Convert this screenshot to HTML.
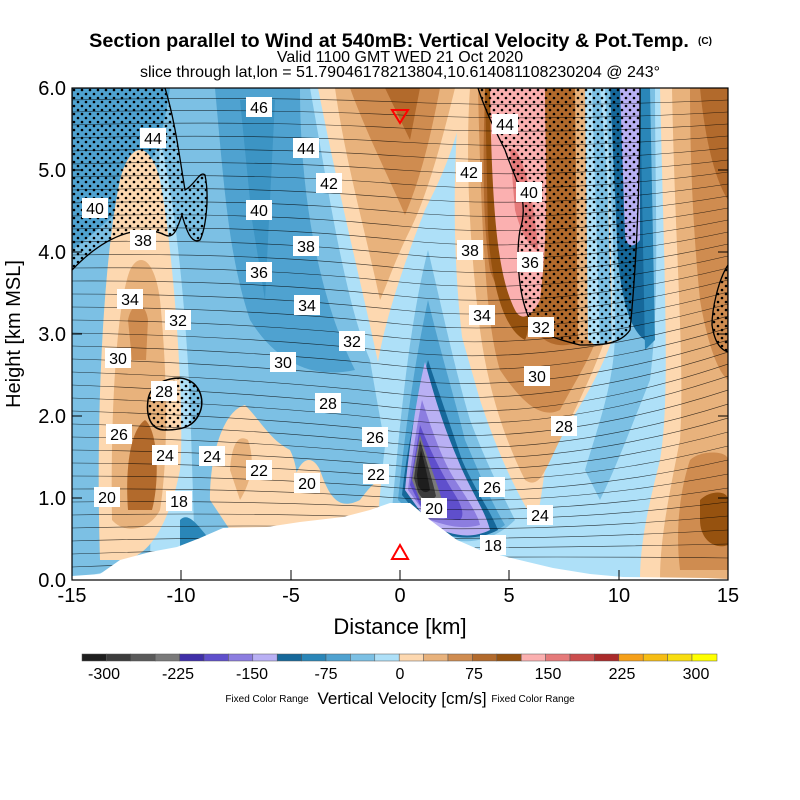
<!DOCTYPE html>
<html><head><meta charset="utf-8"><style>
body{margin:0;background:#fff}
svg{display:block;font-family:"Liberation Sans",sans-serif}
</style></head><body>
<svg width="800" height="800" viewBox="0 0 800 800" xmlns="http://www.w3.org/2000/svg">
<defs>
<pattern id="dots" width="8" height="8" patternUnits="userSpaceOnUse">
<circle cx="2" cy="2" r="1.3" fill="#000"/><circle cx="6" cy="6" r="1.3" fill="#000"/>
</pattern>
<clipPath id="plot"><rect x="72" y="88" width="656" height="492"/></clipPath>
</defs>
<text x="389" y="47" font-size="19.8" font-weight="bold" text-anchor="middle">Section parallel to Wind at 540mB: Vertical Velocity &amp; Pot.Temp.</text>
<text x="705" y="44" font-size="10" font-weight="bold" text-anchor="middle">(C)</text>
<text x="400" y="62" font-size="16" text-anchor="middle">Valid 1100 GMT WED 21 Oct 2020</text>
<text x="400" y="77" font-size="16" text-anchor="middle">slice through lat,lon = 51.79046178213804,10.614081108230204 @ 243°</text>

<g clip-path="url(#plot)">
<rect x="72" y="88" width="656" height="492" fill="#aee0f8"/>
<path d="M72 88 L310 88 C330 200 345 300 370 360 C380 420 390 470 395 500 L72 580 Z" fill="#7cc0e4"/>
<path d="M215 88 L300 88 C300 200 320 300 355 370 C310 380 275 360 250 320 C230 260 225 200 215 88Z" fill="#4fa2d0"/>
<path d="M72 88 L170 88 C160 160 140 200 72 250Z" fill="#4fa2d0"/>
<path d="M240 100 L275 100 L265 300 L252 220Z" fill="#2a86b8" opacity="0.5"/>
<path d="M160 140 C175 200 185 300 190 400 L195 560 L150 560 Z" fill="#aee0f8"/>
<path d="M100 560 C95 400 105 250 120 180 C130 140 150 140 160 180 C175 260 185 420 180 470 C170 520 150 560 120 560Z" fill="#fdd8b0"/>
<path d="M112 520 C110 400 118 300 130 270 C140 250 155 260 160 300 C168 380 168 460 160 510 C150 530 125 535 112 520Z" fill="#e8b27c"/>
<path d="M128 510 C125 470 130 430 145 420 C158 430 160 480 152 510Z" fill="#b26a2c"/>
<path d="M128 320 C132 300 145 300 148 320 L146 360 L132 360Z" fill="#cf8c50"/>
<path d="M210 500 C210 450 225 410 245 405 C260 420 270 440 290 450 C300 470 300 500 290 530 L230 530Z" fill="#fdd8b0"/>
<path d="M230 470 C232 440 240 435 248 440 C255 460 252 480 240 500Z" fill="#e8b27c"/>
<path d="M290 500 C295 460 310 450 320 470 C330 500 340 510 360 500 C375 480 385 470 395 490 L395 530 L290 530Z" fill="#fdd8b0"/>
<path d="M180 520 C190 510 200 530 215 545 L200 560 L180 560Z" fill="#2a86b8"/>
<path d="M318 88 L468 88 C455 150 440 180 425 210 C405 260 385 320 378 362 C365 300 340 200 318 88Z" fill="#fdd8b0"/>
<path d="M335 88 L455 88 C440 150 425 200 410 230 C395 260 385 290 380 300 C365 230 345 160 335 88Z" fill="#e8b27c"/>
<path d="M350 88 L440 88 C430 140 420 180 405 215 C390 180 365 130 350 88Z" fill="#cf8c50"/>
<path d="M385 88 L420 88 L410 140 Z" fill="#b26a2c"/>
<path d="M460 88 L610 88 L612 340 C590 400 560 430 545 470 C540 500 540 520 530 520 C505 500 480 440 468 380 C455 300 450 200 460 88Z" fill="#fdd8b0"/>
<path d="M470 88 L605 88 L605 340 C590 380 575 410 560 440 C545 470 540 490 525 480 C505 440 488 390 480 330 C470 250 465 160 470 88Z" fill="#e8b27c"/>
<path d="M478 88 L600 88 L600 330 C590 360 570 390 560 410 C540 420 520 400 500 370 C488 330 482 260 478 88Z" fill="#cf8c50"/>
<path d="M485 88 L595 88 L600 330 C580 345 560 350 545 340 C520 320 500 300 490 270 C482 220 483 150 485 88Z" fill="#b26a2c"/>
<path d="M485 88 L500 88 L510 200 C520 270 535 320 525 340 C505 330 492 290 488 230 Z" fill="#96520f"/>
<path d="M490 88 L545 88 C545 150 550 220 540 300 C530 320 520 320 515 310 C500 280 492 230 490 88Z" fill="#fbb0b0"/>
<path d="M510 150 C520 140 535 200 538 250 C530 250 520 230 515 210Z" fill="#e57a7a"/>
<path d="M575 88 L585 88 L588 340 L578 340Z" fill="#e8b27c"/>
<path d="M585 88 L605 88 L610 340 L595 345 L588 340Z" fill="#aee0f8"/>
<path d="M592 88 L605 88 L612 340 L600 345Z" fill="#7cc0e4"/>
<path d="M600 88 L660 88 C660 200 665 300 660 420 C640 500 630 560 620 580 L560 580 C560 520 580 460 610 420 C615 300 610 200 600 88Z" fill="#aee0f8"/>
<path d="M605 88 L655 88 C655 200 660 300 650 380 C630 430 615 470 600 500 L585 470 C600 420 615 380 615 330 C615 250 610 180 605 88Z" fill="#7cc0e4"/>
<path d="M610 88 L650 88 C650 200 650 280 645 340 C630 330 622 300 618 260 Z" fill="#16689a"/>
<path d="M620 88 L640 88 L640 240 C632 250 626 245 625 235Z" fill="#b9b0f4"/>
<path d="M640 88 L650 88 L655 340 L645 350Z" fill="#2a86b8"/>
<path d="M660 88 L728 88 L728 580 L640 580 C640 540 650 500 660 460 C670 400 665 300 660 88Z" fill="#fdd8b0"/>
<path d="M672 88 L728 88 L728 580 L660 580 C660 540 668 500 680 440 C685 360 675 250 672 88Z" fill="#e8b27c"/>
<path d="M690 88 L728 88 L728 380 C715 370 705 330 700 300 C695 250 690 180 690 88Z" fill="#cf8c50"/>
<path d="M700 88 L728 88 L728 200 C715 180 705 140 700 88Z" fill="#b26a2c"/>
<path d="M690 460 C700 450 728 450 728 460 L728 570 L680 570 C675 530 680 490 690 460Z" fill="#cf8c50"/>
<path d="M700 500 C710 490 728 490 728 500 L728 545 C715 550 700 540 700 520Z" fill="#96520f"/>
<path d="M378 520 C385 420 405 300 425 210 C440 260 460 330 480 400 C500 460 520 500 540 530 C520 560 480 560 440 545Z" fill="#aee0f8"/>
<path d="M392 510 C400 420 410 320 428 250 C440 300 455 370 470 420 C485 460 500 490 515 520 C490 545 460 545 430 535Z" fill="#7cc0e4"/>
<path d="M398 500 C405 430 415 360 428 300 C440 350 455 400 465 440 C478 470 490 500 505 525 C485 540 460 540 430 530Z" fill="#4fa2d0"/>
<path d="M402 495 C408 440 418 400 428 360 C438 390 452 430 462 460 C475 490 490 510 498 530 C480 540 455 540 430 530Z" fill="#16689a"/>
<path d="M405 490 C410 440 418 390 425 362 C435 400 445 430 458 460 C470 490 485 510 490 530 C470 540 450 535 430 525Z" fill="#b9b0f4"/>
<path d="M408 490 C412 455 418 420 422 400 C432 430 442 460 455 480 C468 500 478 515 480 525 C460 530 445 525 430 520Z" fill="#8c7de0"/>
<path d="M410 485 C414 460 418 440 420 425 C430 450 440 470 452 490 C462 505 465 515 460 520 C445 520 430 515 420 505Z" fill="#5f4fcc"/>
<path d="M412 480 C415 460 418 445 420 435 C428 460 436 480 442 500 C440 510 430 512 420 500Z" fill="#7a7a7a"/>
<path d="M414 478 C416 462 419 450 420 440 C426 460 432 478 436 496 C430 505 422 500 418 492Z" fill="#3c3c3c"/>
<path d="M417 475 C418 465 420 455 421 450 C425 465 428 478 430 490 C425 495 420 490 418 485Z" fill="#1e1e1e"/>
<path d="M380 530 C385 510 395 500 400 505 L400 520 Z" fill="#cf8c50"/>
<path d="M72 88 L165 88 C175 120 180 160 185 190 C195 185 200 170 205 175 C210 200 205 230 200 240 C190 245 185 225 182 215 C178 225 175 240 165 235 C145 225 110 230 72 270Z" fill="url(#dots)" stroke="#000" stroke-width="1.3"/>
<path d="M148 400 C150 385 165 378 180 378 C200 380 205 400 200 412 C195 425 185 430 165 430 C150 430 146 415 148 400Z" fill="url(#dots)" stroke="#000" stroke-width="1.5"/>
<path d="M478 88 L640 88 C640 200 635 280 630 330 C620 345 600 345 580 345 C560 340 540 335 530 320 C520 300 515 260 520 230 C530 200 515 180 505 150 C495 130 485 110 478 88Z" fill="url(#dots)" stroke="#000" stroke-width="1.3"/>
<path d="M728 265 C718 280 712 310 712 325 C715 345 722 350 728 352Z" fill="url(#dots)" stroke="#000" stroke-width="1.3"/>
<g fill="none" stroke="#000" stroke-width="0.6" opacity="0.75">
<path d="M72 100 Q250 96 400 102 T728 100"/>
<path d="M72 112 Q250 108 400 115 T728 112"/>
<path d="M72 125 Q250 120 400 128 T728 124"/>
<path d="M72 138 Q250 133 400 142 T728 136"/>
<path d="M72 151 Q250 146 400 156 T728 148"/>
<path d="M72 164 Q250 159 400 170 T728 160"/>
<path d="M72 177 Q250 172 400 184 T728 172"/>
<path d="M72 190 Q250 185 400 198 T728 184"/>
<path d="M72 203 Q250 198 400 212 T728 196"/>
<path d="M72 216 Q250 211 400 226 T728 208"/>
<path d="M72 229 Q250 224 400 240 T728 220"/>
<path d="M72 242 Q250 238 400 254 T728 232"/>
<path d="M72 255 Q250 252 400 268 T728 244"/>
<path d="M72 268 Q250 266 400 282 T728 256"/>
<path d="M72 281 Q250 280 400 296 T728 268"/>
<path d="M72 294 Q250 294 400 310 T728 280"/>
<path d="M72 307 Q250 308 400 324 T728 292"/>
<path d="M72 320 Q250 322 400 338 T728 304"/>
<path d="M72 333 Q250 336 400 352 T728 316"/>
<path d="M72 346 Q250 350 400 366 T728 328"/>
<path d="M72 359 Q250 364 400 380 T728 340"/>
<path d="M72 372 Q250 378 400 394 T728 352"/>
<path d="M72 385 Q250 392 400 408 T728 364"/>
<path d="M72 398 Q250 404 400 420 T728 376"/>
<path d="M72 411 Q250 416 400 432 T728 390"/>
<path d="M72 424 Q250 428 400 444 T728 404"/>
<path d="M72 437 Q250 440 400 455 T728 418"/>
<path d="M72 450 Q250 452 400 466 T728 432"/>
<path d="M72 463 Q250 464 400 477 T728 446"/>
<path d="M72 476 Q250 476 400 488 T728 460"/>
<path d="M72 489 Q250 488 400 498 T728 474"/>
<path d="M72 502 Q250 500 400 508 T728 488"/>
<path d="M72 515 Q250 512 400 518 T728 502"/>
<path d="M72 528 Q250 524 400 528 T728 516"/>
<path d="M72 541 Q250 536 400 538 T728 530"/>
<path d="M72 554 Q250 548 400 548 T728 544"/>
<path d="M72 567 Q250 560 400 558 T728 558"/>
</g>
<path d="M72 576 L100 574 L120 560 L150 552 L177 547 L200 538 L223 528 L267 527 L300 522 L343 517 L370 510 L390 503 L410 503 L430 520 L457 540 L480 550 L507 557 L553 568 L590 574 L623 577 L707 578 L728 579 L728 582 L72 582Z" fill="#fff"/>
</g>
<rect x="72" y="88" width="656" height="492" fill="none" stroke="#000" stroke-width="1.2"/>
<path d="M392 110 L408 110 L400 123Z" fill="none" stroke="#f00" stroke-width="2"/>
<path d="M392 559 L408 559 L400 545Z" fill="none" stroke="#f00" stroke-width="2"/>
<g font-size="16" text-anchor="middle">
<g fill="#fff">
<rect x="246" y="97" width="26" height="20"/><rect x="140" y="128" width="26" height="20"/><rect x="293" y="138" width="26" height="20"/><rect x="316" y="173" width="26" height="20"/><rect x="82" y="198" width="26" height="20"/><rect x="246" y="200" width="26" height="20"/><rect x="130" y="230" width="26" height="20"/><rect x="293" y="236" width="26" height="20"/><rect x="246" y="262" width="26" height="20"/><rect x="117" y="289" width="26" height="20"/><rect x="294" y="295" width="26" height="20"/><rect x="165" y="310" width="26" height="20"/><rect x="339" y="331" width="26" height="20"/><rect x="105" y="348" width="26" height="20"/><rect x="270" y="352" width="26" height="20"/><rect x="151" y="381" width="26" height="20"/><rect x="315" y="393" width="26" height="20"/><rect x="106" y="424" width="26" height="20"/><rect x="362" y="427" width="26" height="20"/><rect x="152" y="445" width="26" height="20"/><rect x="199" y="446" width="26" height="20"/><rect x="246" y="460" width="26" height="20"/><rect x="363" y="464" width="26" height="20"/><rect x="94" y="487" width="26" height="20"/><rect x="294" y="473" width="26" height="20"/><rect x="166" y="491" width="26" height="20"/><rect x="421" y="498" width="26" height="20"/><rect x="480" y="535" width="26" height="20"/><rect x="479" y="477" width="26" height="20"/><rect x="527" y="505" width="26" height="20"/><rect x="551" y="416" width="26" height="20"/><rect x="524" y="366" width="26" height="20"/><rect x="528" y="317" width="26" height="20"/><rect x="469" y="305" width="26" height="20"/><rect x="517" y="252" width="26" height="20"/><rect x="457" y="240" width="26" height="20"/><rect x="516" y="182" width="26" height="20"/><rect x="456" y="162" width="26" height="20"/><rect x="492" y="114" width="26" height="20"/>
</g>
<text x="259" y="113">46</text><text x="153" y="144">44</text><text x="306" y="154">44</text><text x="329" y="189">42</text><text x="95" y="214">40</text><text x="259" y="216">40</text><text x="143" y="246">38</text><text x="306" y="252">38</text><text x="259" y="278">36</text><text x="130" y="305">34</text><text x="307" y="311">34</text><text x="178" y="326">32</text><text x="352" y="347">32</text><text x="118" y="364">30</text><text x="283" y="368">30</text><text x="164" y="397">28</text><text x="328" y="409">28</text><text x="119" y="440">26</text><text x="375" y="443">26</text><text x="165" y="461">24</text><text x="212" y="462">24</text><text x="259" y="476">22</text><text x="376" y="480">22</text><text x="107" y="503">20</text><text x="307" y="489">20</text><text x="179" y="507">18</text><text x="434" y="514">20</text><text x="493" y="551">18</text><text x="492" y="493">26</text><text x="540" y="521">24</text><text x="564" y="432">28</text><text x="537" y="382">30</text><text x="541" y="333">32</text><text x="482" y="321">34</text><text x="530" y="268">36</text><text x="470" y="256">38</text><text x="529" y="198">40</text><text x="469" y="178">42</text><text x="505" y="130">44</text>
</g>
<g stroke="#000" stroke-width="1">
<path d="M72 580v-10M181 580v-10M291 580v-10M400 580v-10M509 580v-10M619 580v-10M728 580v-10"/>
<path d="M72 580h10M72 498h10M72 416h10M72 334h10M72 252h10M72 170h10M72 88h10"/>
<path d="M728 580h-10M728 498h-10M728 416h-10M728 334h-10M728 252h-10M728 170h-10M728 88h-10"/>
</g>
<g font-size="20" text-anchor="middle">
<text x="72" y="602">-15</text><text x="181" y="602">-10</text><text x="291" y="602">-5</text><text x="400" y="602">0</text><text x="509" y="602">5</text><text x="619" y="602">10</text><text x="728" y="602">15</text>
<text x="400" y="634" font-size="22">Distance [km]</text>
</g>
<g font-size="20" text-anchor="end">
<text x="66" y="587">0.0</text><text x="66" y="505">1.0</text><text x="66" y="423">2.0</text><text x="66" y="341">3.0</text><text x="66" y="259">4.0</text><text x="66" y="177">5.0</text><text x="66" y="95">6.0</text>
</g>
<text transform="translate(20 334) rotate(-90)" font-size="20" text-anchor="middle">Height [km MSL]</text>
<g stroke="#555" stroke-width="0.5">
<rect x="82.0" y="654" width="24.4" height="7" fill="#1e1e1e"/><rect x="106.4" y="654" width="24.4" height="7" fill="#3c3c3c"/><rect x="130.8" y="654" width="24.4" height="7" fill="#5a5a5a"/><rect x="155.2" y="654" width="24.4" height="7" fill="#7a7a7a"/><rect x="179.6" y="654" width="24.4" height="7" fill="#3f2fa8"/><rect x="204.0" y="654" width="24.4" height="7" fill="#5f4fcc"/><rect x="228.4" y="654" width="24.4" height="7" fill="#8c7de0"/><rect x="252.8" y="654" width="24.4" height="7" fill="#b9b0f4"/><rect x="277.2" y="654" width="24.4" height="7" fill="#16689a"/><rect x="301.6" y="654" width="24.4" height="7" fill="#2a86b8"/><rect x="326.0" y="654" width="24.4" height="7" fill="#4fa2d0"/><rect x="350.4" y="654" width="24.4" height="7" fill="#7cc0e4"/><rect x="374.8" y="654" width="24.4" height="7" fill="#aee0f8"/><rect x="399.2" y="654" width="24.4" height="7" fill="#fdd8b0"/><rect x="423.6" y="654" width="24.4" height="7" fill="#e8b27c"/><rect x="448.0" y="654" width="24.4" height="7" fill="#cf8c50"/><rect x="472.4" y="654" width="24.4" height="7" fill="#b26a2c"/><rect x="496.8" y="654" width="24.4" height="7" fill="#96520f"/><rect x="521.2" y="654" width="24.4" height="7" fill="#fbb0b0"/><rect x="545.6" y="654" width="24.4" height="7" fill="#e57a7a"/><rect x="570.0" y="654" width="24.4" height="7" fill="#cc4e4e"/><rect x="594.4" y="654" width="24.4" height="7" fill="#aa2a2a"/><rect x="618.8" y="654" width="24.4" height="7" fill="#f5a01a"/><rect x="643.2" y="654" width="24.4" height="7" fill="#f6bd14"/><rect x="667.6" y="654" width="24.4" height="7" fill="#f8dd10"/><rect x="692.0" y="654" width="25" height="7" fill="#ffff00"/>
</g>
<g font-size="16" text-anchor="middle">
<text x="104" y="679">-300</text><text x="178" y="679">-225</text><text x="252" y="679">-150</text><text x="326" y="679">-75</text><text x="400" y="679">0</text><text x="474" y="679">75</text><text x="548" y="679">150</text><text x="622" y="679">225</text><text x="696" y="679">300</text>
</g>
<text x="267" y="702" font-size="10" text-anchor="middle">Fixed Color Range</text>
<text x="402" y="704" font-size="17" text-anchor="middle">Vertical Velocity [cm/s]</text>
<text x="533" y="702" font-size="10" text-anchor="middle">Fixed Color Range</text>
</svg>
</body></html>
